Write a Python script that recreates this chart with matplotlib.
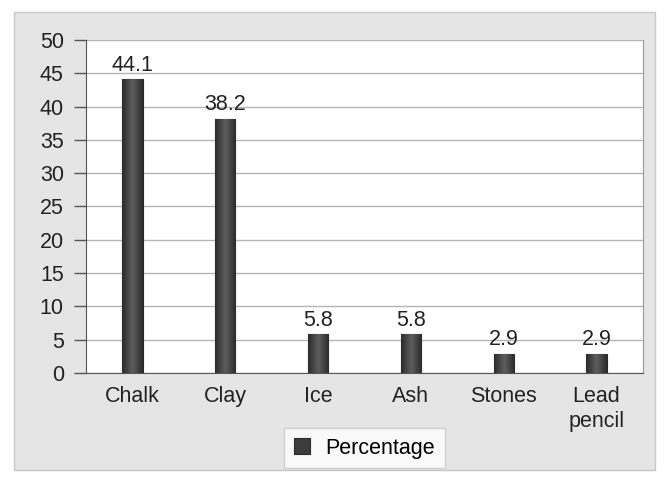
import numpy as np
import matplotlib.pyplot as plt
from matplotlib.patches import Rectangle
from matplotlib.colors import LinearSegmentedColormap

categories = ["Chalk", "Clay", "Ice", "Ash", "Stones", "Lead\npencil"]
percentage = [44.1, 38.2, 5.8, 5.8, 2.9, 2.9]
yticks = [0, 5, 10, 15, 20, 25, 30, 35, 40, 45, 50]

plt.rcParams["font.family"] = ["Liberation Sans", "DejaVu Sans"]
fs = 15.5

fig = plt.figure(figsize=(6.7, 4.86), dpi=100)
fig.patch.set_facecolor("white")

# grey outer frame, kept behind the axes
frame = Rectangle((14 / 670, 1 - 470 / 486), 641 / 670, 458 / 486,
                  transform=fig.transFigure, facecolor="#e5e5e5",
                  edgecolor="#c8c8c8", linewidth=1, zorder=-10)
fig.patches.append(frame)

ax = fig.add_axes([86 / 670, 1 - 373 / 486, 557 / 670, 333 / 486])
ax.set_facecolor("white")

x = np.arange(len(categories))
width = 0.22
bars = ax.bar(x, percentage, width=width, color="#3c3c3c",
              edgecolor="#2a2a2a", linewidth=0.8, zorder=3)

# shaded look of the bars
shade = LinearSegmentedColormap.from_list("shade", ["#2b2b2b", "#5e5e5e", "#2b2b2b"])
grad = np.linspace(0, 1, 64).reshape(1, -1)
for b in bars:
    img = ax.imshow(grad, cmap=shade, aspect="auto", zorder=3.5,
                    extent=[b.get_x(), b.get_x() + b.get_width(), 0, b.get_height()])
    img.set_clip_path(b)

for xi, v in zip(x, percentage):
    ax.text(xi, v + 0.5, f"{v}", ha="center", va="bottom", fontsize=fs, color="#222222")

ax.set_xlim(-0.5, len(categories) - 0.5)
ax.set_ylim(0, 50)
ax.set_yticks(yticks)
ax.set_xticks(x)
ax.set_xticklabels(categories, fontsize=fs, color="#222222", linespacing=1.25)
ax.tick_params(axis="y", labelsize=fs, labelcolor="#222222", length=9, width=1,
               color="#555555", pad=7)
ax.tick_params(axis="x", length=0, pad=9)
ax.grid(axis="y", color="#b4b4b4", linewidth=1, zorder=0)
ax.set_axisbelow(True)

ax.spines["left"].set_color("#555555")
ax.spines["bottom"].set_color("#555555")
ax.spines["right"].set_color("#999999")
ax.spines["top"].set_visible(False)

leg = ax.legend([bars[0]], ["Percentage"], loc="upper center",
                bbox_to_anchor=(0.5, -0.165), fontsize=fs, frameon=True,
                fancybox=False, edgecolor="#c8c8c8", handlelength=0.75,
                handleheight=0.75, handletextpad=0.7, borderpad=0.45,
                borderaxespad=0)
leg.get_frame().set_linewidth(1)

fig.savefig("out.png", dpi=100)
